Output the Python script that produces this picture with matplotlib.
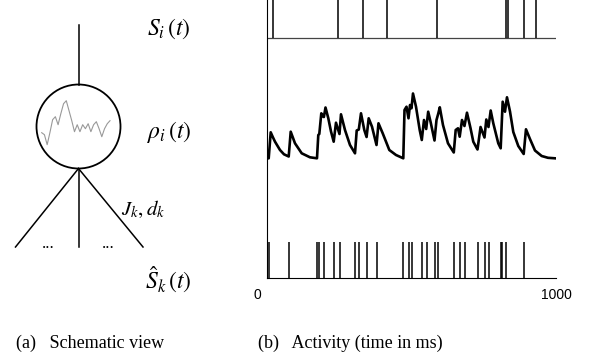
import numpy as np
import matplotlib
matplotlib.use('Agg')
import matplotlib.pyplot as plt
import matplotlib.transforms as mtrans
from matplotlib.patches import Circle

plt.rcParams['mathtext.fontset'] = 'stix'

# 输出神经元 S_i(t) 的脉冲时刻 (ms)
out_spikes = [21, 246, 332, 415, 588, 826, 835, 891, 931]

# 输入脉冲 \hat S_k(t) 的时刻 (ms)
in_spikes = [8, 77, 174, 182, 200, 233, 253, 307, 320, 346, 381,
             473, 491, 502, 537, 553, 582, 593, 648, 667, 687,
             731, 754, 769, 809, 815, 828, 890]

# 发放率 rho_i(t)：从图上读取的 (时间 ms, 数值)
rho_t = [0, 7.6, 14.5, 22.5, 29.4, 46.6, 60.4, 76.7, 83.6, 98.4, 121.6, 150.2,
         174.4, 178.9, 182.4, 189.3, 196.2, 198.2, 203.8, 213.5, 222.8, 232.1,
         240.0, 252.1, 257.3, 271.1, 288.4, 305.7, 311.6, 318.8, 326.4, 337.8,
         345.7, 353.0, 364.4, 380.0, 386.8, 401.4, 424.2, 447.3, 472.5, 476.7,
         483.6, 490.5, 495.7, 500.8, 506.0, 516.4, 529.2, 536.4, 544.0, 551.6,
         558.5, 567.2, 580.3, 587.2, 593.4, 598.6, 609.6, 626.9, 646.9, 653.5,
         661.4, 667.3, 675.3, 683.8, 692.5, 704.6, 714.3, 728.8, 739.4, 753.0,
         759.2, 766.8, 774.4, 783.4, 800.6, 808.9, 815.8, 823.8, 830.7, 841.1,
         852.5, 869.7, 888.4, 896.3, 910.1, 927.4, 950.5, 972.3, 996.5]
rho_v = [0, 0, 26, 20.8, 16.6, 8.3, 4, 1.8, 26.6, 15, 5, 1,
         0, 23.3, 24.3, 45, 41.6, 41.3, 50.8, 40, 26.8, 16.6,
         35.6, 24.3, 44, 28.3, 13.3, 5, 27.8, 28.8, 45, 28.3,
         21.3, 40, 31.6, 13.3, 35, 25, 8.3, 3.3, 0, 48.3,
         51.6, 40, 53.3, 50, 64.8, 51.6, 28.3, 18.3, 38.3, 29.3,
         46.6, 35.8, 17.8, 38.3, 44.8, 51, 33.3, 15, 5.8, 28.3,
         30, 21.6, 38.3, 32.3, 45.6, 30.3, 16.6, 8.8, 31.3, 20.8,
         38.8, 31.3, 47.8, 35, 15, 10, 56.6, 46.6, 61, 46.8,
         26.3, 12.3, 4.3, 29, 19.3, 7.8, 2.3, 0.5, 0]

# 示意图里圆中灰色小曲线的形状
sketch_y = [0, -2, -12, 0, 13, 16, 8, 19, 29, 32, 22, 12, 1, 8, 1, 8,
            4, 9, 1, 8, 11, 4, -4, 4, 9, 12]

fig = plt.figure(figsize=(5.99, 3.62), dpi=100)

# ---- (a) 示意图，用像素坐标 ----
bg = fig.add_axes([0, 0, 1, 1])
bg.set_xlim(0, 599)
bg.set_ylim(362, 0)
bg.axis('off')

cx, cy, r = 78.5, 126.5, 42
bg.add_patch(Circle((cx, cy), r, fill=False, lw=1.3, ec='black'))
bg.plot([cx, cx], [25, cy - r], color='black', lw=1.1)
for xe in [15.5, cx, 143]:
    bg.plot([cx, xe], [cy + r, 247], color='black', lw=1.1)
sx = np.linspace(41.7, 110, len(sketch_y))
bg.plot(sx, 132.7 - np.array(sketch_y), color='#999999', lw=0.8)
bg.text(48.5, 244, '...', ha='center', va='center', fontsize=12,
        family='Liberation Serif')
bg.text(108.5, 244, '...', ha='center', va='center', fontsize=12,
        family='Liberation Serif')

lab = dict(fontsize=17, va='center', ha='left')
bg.text(147, 29, r'$S_i\,(t)$', **lab)
bg.text(147, 132, r'$\rho_i\,(t)$', **lab)
bg.text(121, 209, r'$J_k, d_k$', fontsize=15, va='center', ha='left')
bg.text(145, 280, r'$\hat{S}_k\,(t)$', **lab)

cap = dict(fontsize=13, va='center', ha='left', family='Liberation Serif')
bg.text(16, 343, '(a)   Schematic view', **cap)
bg.text(258, 343, '(b)   Activity (time in ms)', **cap)

# ---- (b) 活动曲线 ----
ax = fig.add_axes([266.5 / 599, (362 - 278) / 362,
                   (556 - 266.5) / 599, 278 / 362])
ax.set_xlim(0, 1000)
ax.set_ylim(0, 278)
for s in ['top', 'right']:
    ax.spines[s].set_visible(False)
ax.spines['left'].set_linewidth(0.8)
ax.spines['bottom'].set_linewidth(0.8)
ax.patch.set_visible(False)

ax.axhline(240, color='#444444', lw=0.9)
ax.vlines(out_spikes, 240, 278, color='black', lw=1.1)
ax.vlines(in_spikes, 0, 36, color='black', lw=1.1)
ax.plot(rho_t, 119.7 + np.array(rho_v), color='black', lw=1.9,
        solid_joinstyle='round')

ax.set_yticks([])
ax.set_xticks([0, 1000])
ax.set_xticklabels(['0', '1000'], family='Liberation Sans', fontsize=10)
ax.tick_params(axis='x', length=0, pad=7)
lbl0 = ax.get_xticklabels()[0]
lbl0.set_transform(lbl0.get_transform() +
                   mtrans.ScaledTranslation(-9 / 100, 0, fig.dpi_scale_trans))

fig.savefig('out.png', dpi=100)
